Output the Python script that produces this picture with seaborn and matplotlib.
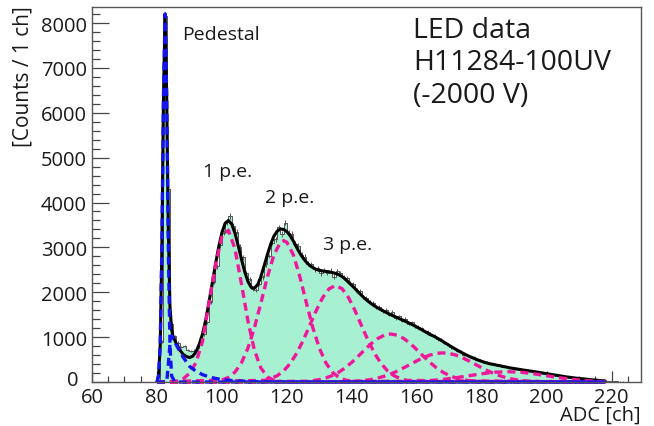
import numpy as np
import pandas as pd
import seaborn as sns
import matplotlib.pyplot as plt
from matplotlib.ticker import MultipleLocator, FuncFormatter

# data histogram, 1 ch bins starting at each channel
channels = list(range(80, 230))
counts = [0, 900, 8150, 4300, 1300, 1020, 880, 780, 800, 720,
          690, 700, 760, 850, 1060, 1330, 1790, 2230, 2580, 3050,
          3330, 3560, 3700, 3480, 3350, 3010, 2780, 2420, 2290, 2080,
          2050, 2190, 2330, 2620, 2810, 3100, 3180, 3450, 3300, 3550,
          3330, 3300, 3080, 3040, 2840, 2790, 2640, 2620, 2510, 2530,
          2420, 2500, 2430, 2480, 2350, 2470, 2420, 2330, 2310, 2200,
          2180, 2060, 2020, 1900, 1880, 1790, 1760, 1670, 1680, 1580,
          1600, 1500, 1560, 1420, 1460, 1370, 1410, 1300, 1330, 1250,
          1230, 1200, 1130, 1120, 1050, 1030, 950, 940, 870, 850,
          770, 760, 690, 680, 610, 610, 550, 550, 490, 490,
          445, 450, 400, 410, 375, 380, 345, 345, 315, 320,
          290, 295, 265, 270, 245, 250, 225, 225, 200, 205,
          180, 175, 155, 160, 130, 130, 110, 110, 92, 90,
          76, 74, 60, 58, 46, 44, 34, 32, 24, 22,
          16, 15, 10, 9, 6, 5, 3, 3, 2, 1]

# total fit
fit_x = [80, 80.5, 81, 81.5, 82, 82.5, 83, 83.5, 84, 84.5] + list(range(85, 219))
fit_y = [0, 140, 830, 2950, 6350, 8200, 6350, 3350, 1680, 1170,
         1000, 850, 720, 620, 570, 545, 575, 670, 840, 1065,
         1380, 1770, 2190, 2620, 3010, 3330, 3540, 3600, 3520, 3320,
         3040, 2740, 2460, 2240, 2110, 2090, 2170, 2350, 2590, 2840,
         3070, 3250, 3360, 3410, 3400, 3350, 3260, 3140, 3000, 2870,
         2760, 2670, 2600, 2550, 2510, 2490, 2475, 2465, 2455, 2440,
         2420, 2390, 2350, 2290, 2220, 2150, 2080, 2000, 1930, 1860,
         1800, 1745, 1695, 1650, 1610, 1570, 1535, 1500, 1465, 1435,
         1400, 1370, 1335, 1300, 1265, 1225, 1185, 1145, 1105, 1060,
         1030, 990, 950, 905, 860, 815, 770, 728, 688, 650,
         612, 578, 545, 515, 487, 460, 435, 415, 400, 385,
         370, 355, 340, 325, 312, 300, 288, 276, 265, 255,
         245, 233, 221, 209, 197, 185, 173, 161, 149, 137,
         126, 115, 105, 96, 87, 79, 71, 63, 56, 49,
         42, 36, 30, 25]

# fit components
ped_x = [80, 80.5, 81, 81.5, 82, 82.5, 83, 83.5, 84, 84.5, 85.5, 218]
ped_y = [0, 140, 830, 2950, 6350, 8200, 6350, 2950, 830, 140, 0, 0]
tail_x = [80, 83, 83.5, 84, 84.5, 85, 86, 88, 90, 92, 94, 96, 98, 100, 104, 110, 120, 218]
tail_y = [0, 0, 400, 850, 1030, 980, 820, 560, 350, 240, 165, 115, 80, 55, 26, 9, 1, 0]

pe1_x = [80] + list(range(84, 122, 2)) + [218]
pe1_y = [0, 4, 19, 65, 193, 430, 900, 1763, 2607, 3238, 3382, 2969, 2191, 1360,
         709, 311, 115, 36, 9, 0, 0]
pe2_x = [80] + list(range(100, 120, 2)) + [119] + list(range(120, 142, 2)) + [218]
pe2_y = [0, 44, 103, 220, 426, 753, 1207, 1764, 2343, 2832, 3113, 3150,
         3113, 2832, 2343, 1764, 1207, 753, 426, 220, 103, 44, 17, 0]
pe3_x = [80] + list(range(113, 159, 2)) + [218]
pe3_y = [0, 36, 74, 140, 248, 411, 639, 925, 1253, 1587, 1879, 2079, 2150,
         2079, 1879, 1587, 1253, 925, 639, 411, 248, 140, 74, 36, 0]
pe4_x = [80] + list(range(126, 180, 2)) + [218]
pe4_y = [0, 16, 31, 54, 91, 145, 220, 319, 440, 577, 721, 857, 969, 1044, 1070,
         1044, 969, 857, 721, 577, 440, 319, 220, 145, 91, 54, 31, 16, 0]
pe5_x = [80] + list(range(138, 200, 2)) + [218]
pe5_y = [0, 7, 13, 22, 36, 58, 88, 129, 180, 244, 317, 394, 472, 543, 600, 637,
         650, 637, 600, 543, 472, 394, 317, 244, 180, 129, 88, 58, 36, 22, 13, 7, 0]
pe6_x = [80] + list(range(152, 220, 4)) + [218]
pe6_y = [0, 3, 7, 15, 31, 57, 95, 139, 184, 218, 230, 218, 184, 139, 95, 57, 31, 15, 10]

sns.set_style('white')
plt.rcParams['font.family'] = ['Open Sans', 'DejaVu Sans']

fig, ax = plt.subplots(figsize=(6.54, 4.27), dpi=100)
fig.subplots_adjust(left=0.1407, right=0.980, bottom=0.103, top=0.9813)

df = pd.DataFrame({'ch': channels, 'n': counts})
mint = '#a8f0d2'
sns.histplot(data=df, x='ch', weights='n', binwidth=1, binrange=(80, 230),
             element='step', fill=True, color=mint, alpha=1, linewidth=0, ax=ax)
sns.histplot(data=df, x='ch', weights='n', binwidth=1, binrange=(80, 230),
             element='step', fill=False, color='#555555', linewidth=0.7, ax=ax)
ax.errorbar(np.array(channels) + 0.5, counts, yerr=np.sqrt(counts), fmt='none',
            ecolor='#555555', elinewidth=0.7)

sns.lineplot(x=fit_x, y=fit_y, color='black', linewidth=2.2,
             estimator=None, sort=False, ax=ax)

blue = '#1414f0'
pink = '#f0179a'
dash = (0, (2.4, 1.5))
for xs, ys, c in [(pe1_x, pe1_y, pink), (pe2_x, pe2_y, pink), (pe3_x, pe3_y, pink),
                  (pe4_x, pe4_y, pink), (pe5_x, pe5_y, pink), (pe6_x, pe6_y, pink),
                  (tail_x, tail_y, blue), (ped_x, ped_y, blue)]:
    sns.lineplot(x=xs, y=ys, color=c, linewidth=2.4, linestyle=dash,
                 estimator=None, sort=False, clip_on=False, ax=ax)

ax.set_xlim(60, 229)
ax.set_ylim(0, 8357)
ax.set_xlabel('')
ax.set_ylabel('')

ax.xaxis.set_major_locator(MultipleLocator(20))
ax.xaxis.set_minor_locator(MultipleLocator(5))
ax.yaxis.set_major_locator(MultipleLocator(1000))
ax.yaxis.set_minor_locator(MultipleLocator(200))
# the "0" of the y axis sits a bit to the left, as in the original
ax.yaxis.set_major_formatter(FuncFormatter(lambda v, p: '' if v == 0 else f'{v:.0f}'))
ax.tick_params(axis='both', which='both', direction='in', colors='#444444',
               labelcolor='#1a1a1a', labelsize=14.5, width=0.9,
               bottom=True, left=True, top=False, right=False)
ax.tick_params(axis='y', which='major', length=12, pad=3.6)
ax.tick_params(axis='y', which='minor', length=6)
ax.tick_params(axis='x', which='major', length=8, pad=3.5)
ax.tick_params(axis='x', which='minor', length=4.5)
for s in ax.spines.values():
    s.set_color('#555555')
    s.set_linewidth(1)
ax.annotate('0', xy=(0, 0), xycoords='axes fraction', xytext=(-9.6, 1.5),
            textcoords='offset points', ha='right', va='center',
            fontsize=14.5, color='#1a1a1a')

ax.text(87.7, 7756, 'Pedestal', fontsize=14, va='center', color='#1a1a1a')
ax.text(94.2, 4702, '1 p.e.', fontsize=14, va='center', color='#1a1a1a')
ax.text(113.2, 4123, '2 p.e.', fontsize=14, va='center', color='#1a1a1a')
ax.text(131.1, 3075, '3 p.e.', fontsize=14, va='center', color='#1a1a1a')
ax.text(158.8, 7850, 'LED data', fontsize=20.5, va='center', color='#1a1a1a')
ax.text(158.8, 7140, 'H11284-100UV', fontsize=20.5, va='center', color='#1a1a1a')
ax.text(158.8, 6400, '(-2000 V)', fontsize=20.5, va='center', color='#1a1a1a')

fig.text(23 / 654, 1 - 6 / 427, '[Counts / 1 ch]', rotation=90, ha='center',
         va='top', fontsize=15, color='#1a1a1a')
fig.text(641 / 654, 6 / 427, 'ADC [ch]', ha='right', va='baseline',
         fontsize=14.5, color='#1a1a1a')

fig.savefig('out.png', dpi=100)
